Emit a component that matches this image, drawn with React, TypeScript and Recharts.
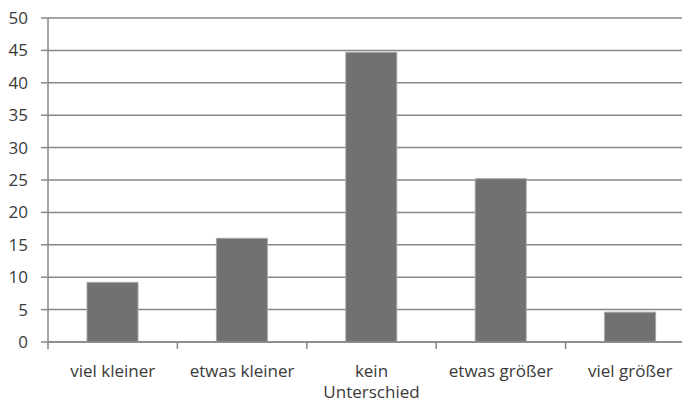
import { BarChart, Bar, XAxis, YAxis, CartesianGrid, Text } from 'recharts';

const categories = ['viel kleiner', 'etwas kleiner', 'kein Unterschied', 'etwas größer', 'viel größer'];
const shares = [9.2, 16, 44.7, 25.2, 4.6];
const yTicks = [0, 5, 10, 15, 20, 25, 30, 35, 40, 45, 50];

const data = categories.map((name, i) => ({ name, value: shares[i] }));

const font = '"Open Sans", sans-serif';
const lineColor = '#878787';
const textColor = '#3a3a3a';
const labelStyle = { fontSize: 17, fontFamily: font };

// label under each category, plus the short tick marks at the category edges
function CategoryTick(props: any) {
    const { x, y, payload, index, visibleTicksCount } = props;
    const half = payload.offset || 0;
    const isLast = index === visibleTicksCount - 1;
    return (
        <g>
            <line x1={x - half} x2={x - half} y1={y} y2={y + 7} stroke={lineColor} strokeWidth={1.5} />
            {isLast && (
                <line x1={x + half} x2={x + half} y1={y} y2={y + 7} stroke={lineColor} strokeWidth={1.5} />
            )}
            <Text
                x={x}
                y={y}
                dy={23}
                width={120}
                lineHeight={21}
                textAnchor="middle"
                verticalAnchor="start"
                fill={textColor}
                style={labelStyle}
            >
                {payload.value}
            </Text>
        </g>
    );
}

export default function App() {
    return (
        <div style={{ margin: -8, width: 690, height: 406, overflow: 'hidden', background: '#fff' }}>
            <BarChart
                width={700}
                height={406}
                data={data}
                margin={{ top: 18, right: 5, bottom: 0, left: 0 }}
                barSize={51}
            >
                <CartesianGrid
                    vertical={false}
                    stroke={lineColor}
                    strokeWidth={1.5}
                />
                <XAxis
                    dataKey="name"
                    height={64}
                    tickLine={false}
                    tickSize={0}
                    tickMargin={0}
                    interval={0}
                    stroke={lineColor}
                    strokeWidth={1.5}
                    tick={<CategoryTick />}
                />
                <YAxis
                    width={48}
                    domain={[0, 50]}
                    ticks={yTicks}
                    interval={0}
                    tickSize={7}
                    tickMargin={13}
                    stroke={lineColor}
                    strokeWidth={1.5}
                    tick={{ fill: textColor, fontSize: 17, fontFamily: font }}
                />
                <Bar
                    dataKey="value"
                    fill="#717171"
                    stroke="#a6a6a6"
                    strokeWidth={1}
                    isAnimationActive={false}
                />
            </BarChart>
        </div>
    );
}
